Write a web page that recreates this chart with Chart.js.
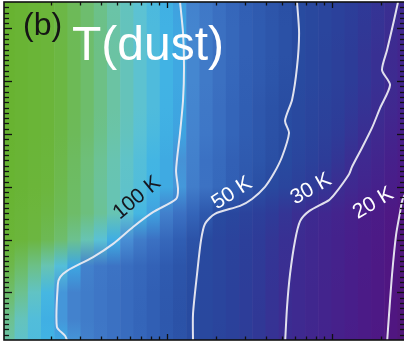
<!DOCTYPE html>
<html>
<head>
<meta charset="utf-8">
<script src="https://cdn.jsdelivr.net/npm/chart.js@4.4.1/dist/chart.umd.min.js"></script>
<style>
  html, body { margin: 0; padding: 0; background: #fff; overflow: hidden; }
  #wrap { position: relative; width: 406px; height: 347px; }
</style>
</head>
<body>
<div id="wrap"><canvas id="c" width="406" height="347"></canvas></div>
<script>
// ---- grid: column centres along x (log axis) and row heights along y ----
const colX = [1.096, 1.318, 1.585, 1.905, 2.291, 2.754, 3.311, 3.981, 4.786, 5.754,
              6.918, 8.318, 10.0, 12.02, 14.45, 17.38, 20.89, 25.12, 30.20, 36.31,
              43.65, 52.48, 63.10, 75.86, 91.20, 109.6, 131.8, 158.5, 190.5, 229.1, 275.4];
const yNodes = [0.1, 0.5, 1.0, 1.5, 2.0, 2.5, 3.0, 3.5, 4.0, 4.5, 5.0, 5.5, 6.0, 6.5];

// ---- dust temperature (K), one row per y node, bottom to top ----
const tempY01 = [152,133,120,111,102.5,91,80,76,72,68.5,65,61,57.5,54,50,47.1,44.3,41.4,38.6,35.7,32.8,30,28.7,27.4,26.1,24.8,23.5,22.2,20.9,19.6,18.4];
const tempY05 = [161,140,122,108,92,81,78,75,71.5,68,64.5,61,57,53.5,50,47.3,44.4,41.6,38.8,36,33.2,30.4,29,27.7,26.4,25.1,23.8,22.5,21.2,19.9,18.8];
const tempY10 = [180,162,136,115,92,81,78,75,71.5,68,65,61,57.5,54,50.5,47.6,44.7,41.9,39,36.2,33.4,30.5,29,27.7,26.4,25.1,23.8,22.5,21.2,19.9,18.8];
const tempY15 = [197,183,165,145,123,101,80.5,76,73,69,66,62.5,58.5,55,51.5,48.2,45.4,42.5,39.7,36.9,34,31.2,29.2,28,26.7,25.4,24.1,22.8,21.5,20.2,19];
const tempY20 = [217,210,203,192,178,162,145,127,107,88,78,72,66,60,54,48.9,46,43.2,40.4,37.6,34.8,32,29.6,28.3,27,25.7,24.4,23,21.7,20.4,19];
const tempY25 = [220,214,207,200,190,181,170,158,145,129,114,98,80,72,64,57,49.7,46.6,43.5,40.4,37.4,34.3,31.2,29.2,27.8,26.5,25.1,23.7,22.4,21,19.7];
const tempY30 = [225,219,213,206,195,183,170,157,145,133,122,112,104,93,78.5,72.5,66.5,61,56.5,52,48,44.5,41,37.5,34,30.5,28.6,26.9,25.3,23.6,22];
const tempY35 = [226,220,214,208,197,185,172,159,146,134,123,113,104,90,80,72,67,61.5,58,55,52,49,45.2,41.6,38,34.5,31,28.6,26.7,24.9,23];
const tempY40 = [227,221,216,211,200,189,177,164,151,139,127,117,108,99,82,75.5,69.5,64,59.5,56,53,50.5,47.5,44.2,40.9,37.5,34.2,30.9,28.4,26.3,24.2];
const tempY45 = [228,222,217,212,202,191,179,166,153,141,130,120,110,100.5,83,76,70,64.5,60,56.5,53.5,51,48.1,45.1,42.2,39.3,36.3,33.4,30.5,28,26];
const tempY50 = [228,222,217,212,202,191,179,166,153,141,130,120,111,102,84,77,71,65.5,61,58,55,52,49.5,46.6,43.7,40.8,37.9,35,32,29.5,27];
const tempY55 = [228,222,217,212,202,191,179,166,153,141,130,120,111,102,84,77,71,66,61.5,58.5,55.5,52.8,50,46.8,43.8,40.8,37.8,34.8,31.8,29.1,26.7];
const tempY60 = [227,221,216,211,201,190,178,165,152,140,129,119,110,101,83,77,71,66,61.5,58.5,55.5,53,50.2,47.2,44.4,41.6,38.8,36,33.2,30.5,28];
const tempY65 = [227,221,216,211,200,189,177,164,151,139,128,118,109,98,81,76,70.5,65,60.8,58,55.2,52.4,49.7,47,44.4,41.8,39.2,36.6,34,31.4,29.1];
const dustTemp = [tempY01, tempY05, tempY10, tempY15, tempY20, tempY25, tempY30,
                  tempY35, tempY40, tempY45, tempY50, tempY55, tempY60, tempY65];

// ---- contour levels (K) and their traced paths ----
const levels = [100, 50, 30, 20];
const contour100 = [{x:12.04,y:6.5},{x:12.56,y:5.91},{x:12.73,y:5.27},{x:12.56,y:4.65},{x:12.04,y:4.02},
  {x:11.39,y:3.31},{x:11.71,y:2.95},{x:11.39,y:2.77},{x:8.26,y:2.52},{x:6.25,y:2.24},{x:4.73,y:1.92},
  {x:3.58,y:1.67},{x:2.49,y:1.41},{x:2.26,y:1.29},{x:2.19,y:1.16},{x:2.16,y:0.35},{x:2.42,y:0.18},{x:2.52,y:0.05}];
const contour50 = [{x:61.6,y:6.5},{x:63.4,y:5.91},{x:61.6,y:5.27},{x:57.5,y:4.65},{x:52.1,y:4.25},
  {x:55.1,y:4.02},{x:50.0,y:3.57},{x:44.7,y:3.26},{x:39.4,y:3.0},{x:32.9,y:2.77},{x:27.8,y:2.64},
  {x:19.6,y:2.49},{x:17.07,y:2.30},{x:16.14,y:1.99},{x:15.27,y:1.35},{x:14.43,y:0.59},{x:14.43,y:0.05}];
const contour30 = [{x:252.2,y:6.5},{x:238.6,y:6.16},{x:216.4,y:5.59},{x:201.7,y:5.21},{x:225.6,y:4.93},
  {x:196.2,y:4.49},{x:175.5,y:4.12},{x:152.6,y:3.74},{x:132.7,y:3.38},{x:127.3,y:3.24},{x:104.7,y:2.87},
  {x:96.3,y:2.75},{x:72.9,y:2.54},{x:64.3,y:2.35},{x:59.9,y:1.98},{x:55.9,y:1.35},{x:53.6,y:0.73},{x:52.1,y:0.02}];
const contour20 = [{x:298.2,y:3.04},{x:267.9,y:2.75},{x:259.4,y:2.52},{x:245.3,y:2.09},{x:232.1,y:1.35},
  {x:222.5,y:0.59},{x:216.4,y:0.06}];
const contourPaths = [contour100, contour50, contour30, contour20];

// label anchor (data coordinates) and slope for each contour level
const labelX = [6.60, 24.87, 74.9, 178.7];
const labelY = [2.79, 2.88, 2.96, 2.69];
const labelAngle = [-40, -33, -30, -31];
const labelInk = ['#16161e', '#ffffff', '#ffffff', '#ffffff'];

// ---- colour scale: temperature (K) -> rgb ----
const cmapT = [13, 17, 20, 24, 30, 38, 50, 62, 75, 88, 100, 112, 128, 150, 175, 205, 240];
const cmapRGB = [[72,24,92],[80,22,110],[80,22,130],[72,30,138],[60,44,145],[45,60,152],[40,75,160],
  [50,97,182],[62,118,198],[72,142,212],[62,165,225],[65,180,228],[92,194,212],[106,196,170],
  [110,190,115],[108,182,62],[102,178,42]];

function tempColor(t) {
  const n = cmapT.length;
  const fmt = c => `rgb(${Math.round(c[0])},${Math.round(c[1])},${Math.round(c[2])})`;
  if (t <= cmapT[0]) return fmt(cmapRGB[0]);
  if (t >= cmapT[n - 1]) return fmt(cmapRGB[n - 1]);
  for (let i = 1; i < n; i++) {
    if (t <= cmapT[i]) {
      const f = (Math.log(t) - Math.log(cmapT[i - 1])) / (Math.log(cmapT[i]) - Math.log(cmapT[i - 1]));
      const a = cmapRGB[i - 1], b = cmapRGB[i];
      return fmt([a[0] + (b[0] - a[0]) * f, a[1] + (b[1] - a[1]) * f, a[2] + (b[2] - a[2]) * f]);
    }
  }
}

// each column is one floating bar filled with a vertical gradient through its row values
function columnFill(c) {
  const chart = c.chart;
  const ys = chart.scales && chart.scales.y;
  if (!ys || c.dataIndex === undefined) return 'rgba(0,0,0,0)';
  const last = yNodes.length - 1;
  const p0 = ys.getPixelForValue(yNodes[0]);
  const p1 = ys.getPixelForValue(yNodes[last]);
  if (!isFinite(p0) || !isFinite(p1) || p0 === p1) return 'rgba(0,0,0,0)';
  const g = chart.ctx.createLinearGradient(0, p0, 0, p1);
  yNodes.forEach((yv, j) => {
    g.addColorStop((yv - yNodes[0]) / (yNodes[last] - yNodes[0]), tempColor(dustTemp[j][c.dataIndex]));
  });
  return g;
}

const heatData = colX.map(x => ({ x: x, y: [yNodes[0], yNodes[yNodes.length - 1]] }));

const contourSets = contourPaths.map((path, i) => ({
  type: 'line',
  label: levels[i] + ' K',
  data: path,
  borderColor: 'rgba(234,234,242,0.95)',
  borderWidth: 2,
  pointRadius: 0,
  tension: 0.25,
  fill: false,
  clip: 0,
  order: 1
}));

// frame with inward ticks, panel tag, title and contour labels
const framePlugin = {
  id: 'framePlugin',
  afterDatasetsDraw(chart) {
    const { ctx, chartArea: a, scales: { x, y } } = chart;
    ctx.save();
    ctx.strokeStyle = '#111';
    ctx.lineWidth = 1.3;
    const seg = (x0, y0, x1, y1) => { ctx.beginPath(); ctx.moveTo(x0, y0); ctx.lineTo(x1, y1); ctx.stroke(); };
    for (let d = 0; d <= 3; d++) {
      for (let m = 1; m <= 9; m++) {
        const v = m * Math.pow(10, d);
        if (v <= x.min || v >= x.max) continue;
        const px = Math.round(x.getPixelForValue(v)) + 0.5;
        const len = m === 1 ? 6 : 3.5;
        seg(px, a.top, px, a.top + len);
        seg(px, a.bottom, px, a.bottom - len);
      }
    }
    for (let i = 2; i < 65; i++) {
      const v = i / 10;
      const py = Math.round(y.getPixelForValue(v)) + 0.5;
      const len = i % 10 === 0 ? 8 : 5;
      seg(a.left, py, a.left + len, py);
      seg(a.right, py, a.right - len, py);
    }
    ctx.lineWidth = 1.6;
    ctx.strokeRect(a.left, a.top, a.right - a.left, a.bottom - a.top);

    ctx.textAlign = 'left';
    ctx.textBaseline = 'alphabetic';
    ctx.fillStyle = '#151515';
    ctx.font = '32px "Liberation Sans", Arial, sans-serif';
    ctx.fillText('(b)', a.left + 19, a.top + 33);
    ctx.fillStyle = '#ffffff';
    ctx.font = '48px "Liberation Sans", Arial, sans-serif';
    ctx.fillText('T(dust)', a.left + 68, a.top + 58);

    ctx.font = '21px "Liberation Sans", Arial, sans-serif';
    ctx.textAlign = 'center';
    ctx.textBaseline = 'middle';
    levels.forEach((lv, i) => {
      const px = x.getPixelForValue(labelX[i]);
      const py = y.getPixelForValue(labelY[i]);
      ctx.save();
      ctx.translate(px, py);
      ctx.rotate(labelAngle[i] * Math.PI / 180);
      ctx.fillStyle = labelInk[i];
      ctx.fillText(lv + ' K', 0, 0);
      ctx.restore();
    });
    ctx.restore();
  }
};

new Chart(document.getElementById('c'), {
  type: 'bar',
  data: {
    datasets: [
      {
        type: 'bar',
        label: 'T(dust)',
        data: heatData,
        backgroundColor: columnFill,
        borderWidth: 0,
        barPercentage: 1,
        categoryPercentage: 1,
        order: 2
      },
      ...contourSets
    ]
  },
  options: {
    responsive: false,
    devicePixelRatio: 1,
    animation: false,
    layout: { padding: { left: 4, top: 2, right: 1, bottom: 7 } },
    plugins: { legend: { display: false }, tooltip: { enabled: false }, title: { display: false } },
    scales: {
      x: { type: 'logarithmic', min: 1.0326, max: 277.9, offset: false, display: false },
      y: { type: 'linear', min: 0.1, max: 6.5, display: false }
    }
  },
  plugins: [framePlugin]
});
</script>
</body>
</html>
